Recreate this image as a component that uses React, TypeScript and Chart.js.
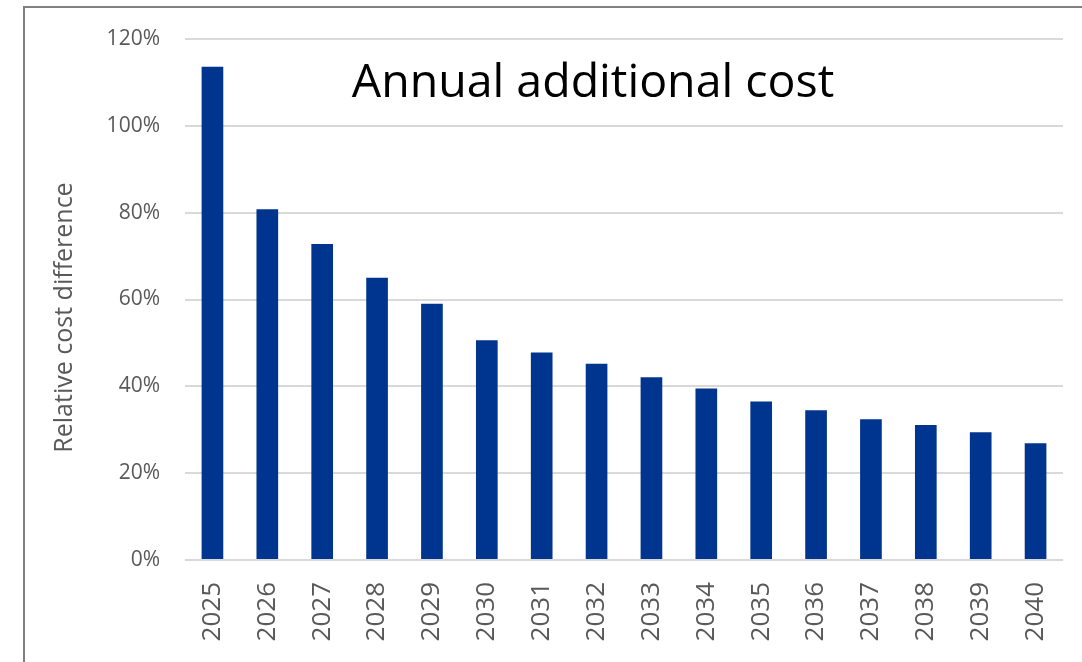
import { useEffect, useRef } from "react";
import { Chart, registerables } from "chart.js";

Chart.register(...registerables);

const years = [
  "2025", "2026", "2027", "2028", "2029", "2030", "2031", "2032",
  "2033", "2034", "2035", "2036", "2037", "2038", "2039", "2040",
];
const relativeCost = [
  113.6, 80.8, 72.8, 65.0, 59.0, 50.6, 47.8, 45.2,
  42.1, 39.5, 36.5, 34.5, 32.4, 31.1, 29.4, 26.9,
];
const yMin = 0;
const yMax = 120;
const yStep = 20;
const chartTitle = "Annual additional cost";
const yAxisTitle = "Relative cost difference";

const FONT = '"Open Sans", "Noto Sans", sans-serif';

const overlayPlugin = {
  id: "overlayText",
  afterDraw(chart: any) {
    const { ctx, chartArea: a } = chart;
    ctx.save();
    ctx.fillStyle = "#000000";
    ctx.font = `46.5px ${FONT}`;
    ctx.textAlign = "center";
    ctx.textBaseline = "alphabetic";
    ctx.fillText(chartTitle, a.left + 408, a.top + 58);
    ctx.restore();

    ctx.save();
    ctx.translate(65, (a.top + a.bottom) / 2 + 18);
    ctx.rotate(-Math.PI / 2);
    ctx.fillStyle = "#595959";
    ctx.font = `25px ${FONT}`;
    ctx.textAlign = "center";
    ctx.textBaseline = "middle";
    ctx.fillText(yAxisTitle, 0, 0);
    ctx.restore();
  },
};

export default function App() {
  const canvasRef = useRef<HTMLCanvasElement | null>(null);

  useEffect(() => {
    document.body.style.margin = "0";
    const canvas = canvasRef.current;
    if (!canvas) return;
    const chart = new Chart(canvas, {
      type: "bar",
      data: {
        labels: years,
        datasets: [
          {
            data: relativeCost,
            backgroundColor: "#00358F",
            borderWidth: 0,
            categoryPercentage: 1,
            barPercentage: 0.395,
          },
        ],
      },
      options: {
        animation: false,
        responsive: false,
        maintainAspectRatio: false,
        layout: { padding: { left: 0, top: 39, right: 19, bottom: 0 } },
        plugins: {
          legend: { display: false },
          title: { display: false },
          tooltip: { enabled: false },
        },
        scales: {
          x: {
            grid: { display: false, drawTicks: false },
            border: { display: false },
            ticks: {
              color: "#595959",
              font: { family: FONT, size: 26 },
              minRotation: 90,
              maxRotation: 90,
              padding: 22,
              autoSkip: false,
            },
            afterFit(scale: any) {
              scale.height = 102;
              scale.paddingLeft = 0;
              scale.paddingRight = 0;
            },
          },
          y: {
            min: yMin,
            max: yMax,
            grid: { color: "#D9D9D9", lineWidth: 2, drawTicks: false },
            border: { display: false },
            ticks: {
              stepSize: yStep,
              color: "#595959",
              font: { family: FONT, size: 21 },
              padding: 25,
              callback: (v: any) => `${v}%`,
            },
            afterFit(scale: any) {
              scale.width = 185;
              scale.paddingTop = 0;
              scale.paddingBottom = 0;
            },
          },
        },
      },
      plugins: [overlayPlugin],
    });
    return () => chart.destroy();
  }, []);

  return (
    <div
      style={{
        position: "relative",
        width: 1082,
        height: 662,
        overflow: "hidden",
        background: "#ffffff",
      }}
    >
      <canvas
        ref={canvasRef}
        width={1082}
        height={662}
        style={{ position: "absolute", left: 0, top: 0, width: 1082, height: 662 }}
      />
      <div
        style={{
          position: "absolute",
          left: 23,
          top: 6,
          width: 1100,
          height: 700,
          borderLeft: "2px solid #808080",
          borderTop: "2px solid #808080",
          pointerEvents: "none",
        }}
      />
    </div>
  );
}
